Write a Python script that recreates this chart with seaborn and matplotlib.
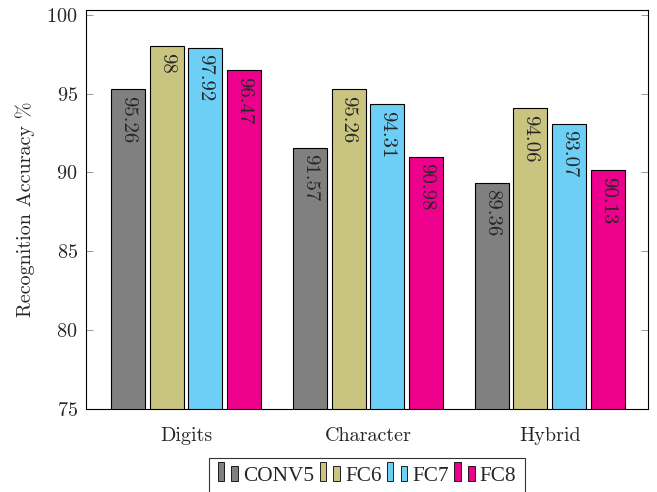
import matplotlib
matplotlib.use("Agg")
import matplotlib.pyplot as plt
from matplotlib.patches import Patch, Rectangle
from matplotlib.legend_handler import HandlerBase
import pandas as pd
import seaborn as sns

datasets = ["Digits", "Character", "Hybrid"]
layers = ["CONV5", "FC6", "FC7", "FC8"]
conv5 = [95.26, 91.57, 89.36]
fc6 = [98, 95.26, 94.06]
fc7 = [97.92, 94.31, 93.07]
fc8 = [96.47, 90.98, 90.13]
layer_colors = ["#808080", "#C9C47F", "#6DCFF6", "#EC008C"]
y_ticks = [75, 80, 85, 90, 95, 100]

rows = []
for layer, vals in zip(layers, [conv5, fc6, fc7, fc8]):
    for ds, v in zip(datasets, vals):
        rows.append({"dataset": ds, "layer": layer, "accuracy": v})
df = pd.DataFrame(rows)

sns.set_style("ticks")
plt.rcParams["font.family"] = ["cmr10", "DejaVu Serif"]
plt.rcParams["axes.formatter.use_mathtext"] = True
plt.rcParams["font.size"] = 14

fig = plt.figure(figsize=(6.57, 4.92), dpi=100)
ax = fig.add_axes([0.1309, 0.1687, 0.8554, 0.8110])

sns.barplot(data=df, x="dataset", y="accuracy", hue="layer", order=datasets,
            hue_order=layers, palette=layer_colors, saturation=1, width=0.85,
            gap=0.12, edgecolor="black", linewidth=0.8, legend=False, ax=ax)

# value labels, written downwards just under the top of each bar
for container, vals in zip(ax.containers, [conv5, fc6, fc7, fc8]):
    for patch, v in zip(container.patches, vals):
        xc = patch.get_x() + patch.get_width() / 2
        ax.annotate(f"{v:g}", (xc, patch.get_y() + patch.get_height()),
                    xytext=(0, -4.5), textcoords="offset points", rotation=-90,
                    ha="center", va="top", fontsize=15)

ax.set_ylim(75, 100.3)
ax.set_xlim(-0.55, 2.54)
ax.set_yticks(y_ticks)
ax.set_xlabel("")
ax.set_ylabel("Recognition Accuracy %", fontsize=14.5, labelpad=8)
ax.tick_params(axis="y", direction="in", length=5, width=0.6, color="#888888",
               left=True, right=True, pad=6, labelsize=14.5)
ax.tick_params(axis="x", length=0, pad=13, labelsize=14.5)
for s in ax.spines.values():
    s.set_visible(True)
    s.set_color("black")
    s.set_linewidth(0.8)


class TwoBarHandler(HandlerBase):
    def create_artists(self, legend, orig_handle, xdescent, ydescent, width,
                       height, fontsize, trans):
        fc = orig_handle.get_facecolor()
        w = width * 0.32
        base = -ydescent
        r1 = Rectangle((-xdescent, base), w, height * 1.3, facecolor=fc,
                       edgecolor="black", linewidth=0.6, transform=trans)
        r2 = Rectangle((-xdescent + width * 0.68, base), w, height * 1.02,
                       facecolor=fc, edgecolor="black", linewidth=0.6,
                       transform=trans)
        return [r1, r2]


handles = [Patch(facecolor=c, label=l) for c, l in zip(layer_colors, layers)]
leg = fig.legend(handles=handles, loc="upper center",
                 bbox_to_anchor=(367 / 657, 1 - 458 / 492), ncol=4, frameon=True,
                 fancybox=False, edgecolor="black",
                 prop={"family": "Liberation Serif", "size": 15.3},
                 handlelength=0.95, handletextpad=0.25, columnspacing=0.25,
                 borderpad=0.4, borderaxespad=0,
                 handler_map={Patch: TwoBarHandler()})
leg.get_frame().set_linewidth(0.8)

fig.savefig("out.png", dpi=100)
